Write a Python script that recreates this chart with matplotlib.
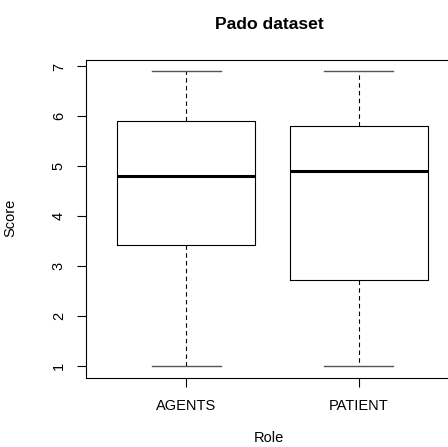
import matplotlib
matplotlib.use("Agg")
import matplotlib.pyplot as plt

roles = ["AGENTS", "PATIENT"]
whislo = [1.0, 1.0]
q1 = [3.42, 2.71]
med = [4.81, 4.91]
q3 = [5.90, 5.80]
whishi = [6.90, 6.90]
yticks = [1, 2, 3, 4, 5, 6, 7]

plt.rcParams['font.family'] = ['Liberation Sans', 'DejaVu Sans']

fig = plt.figure(figsize=(4.48, 4.47), dpi=100)
L, R, T, B = 86, 452, 60, 377.7
W, H = 448, 447
ax = fig.add_axes([L / W, 1 - B / H, (R - L) / W, (B - T) / H])

stats = []
for i, r in enumerate(roles):
    stats.append(dict(label=r, whislo=whislo[i], q1=q1[i], med=med[i],
                      q3=q3[i], whishi=whishi[i], fliers=[]))

ax.bxp(stats, positions=[1, 2], widths=0.8, showfliers=False,
       boxprops=dict(color='black', linewidth=0.8),
       whiskerprops=dict(color='black', linewidth=0.8, linestyle=(0, (4, 3))),
       capprops=dict(color='#555555', linewidth=1.0),
       medianprops=dict(color='black', linewidth=2.2),
       capwidths=0.4)

ax.set_xlim(0.42, 2.54)
ax.set_ylim(0.76, 7.13)
ax.set_yticks(yticks)
ax.set_yticklabels([str(v) for v in yticks], fontsize=10.5, rotation=90, va='center')
ax.set_xticks([1, 2])
ax.set_xticklabels(roles, fontsize=10.5)
ax.tick_params(axis='y', length=6.5, width=0.8, pad=8)
ax.tick_params(axis='x', length=6.5, width=0.8, pad=9)
for s in ax.spines.values():
    s.set_linewidth(0.8)

fig.text(269 / W, 1 - 29 / H, "Pado dataset", ha='center', va='baseline',
         fontsize=12.6, fontweight='bold')
fig.text(269 / W, 1 - 442 / H, "Role", ha='center', va='baseline', fontsize=10.5)
fig.text(10.5 / W, 1 - 218 / H, "Score", ha='center', va='center',
         rotation=90, fontsize=10.5)

fig.savefig("out.png", dpi=100)
